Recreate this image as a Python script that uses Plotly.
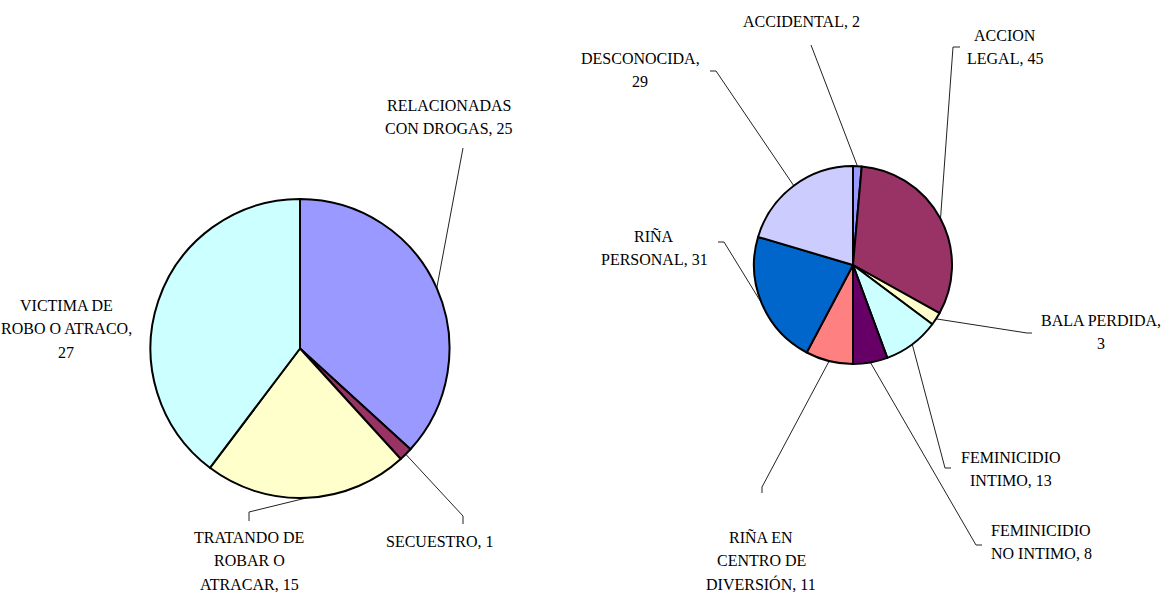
#two pies with leader-line labels (clasificacion de homicidios)
#%%
import numpy as np
import plotly.graph_objects as go

#%% data
left_names = ["RELACIONADAS CON DROGAS", "SECUESTRO", "TRATANDO DE ROBAR O ATRACAR", "VICTIMA DE ROBO O ATRACO"]
left_values = [25, 1, 15, 27]
left_colors = ["#9999FF", "#993366", "#FFFFCC", "#CCFFFF"]

right_names = ["ACCIDENTAL", "ACCION LEGAL", "BALA PERDIDA", "FEMINICIDIO INTIMO",
               "FEMINICIDIO NO INTIMO", "RIÑA EN CENTRO DE DIVERSIÓN", "RIÑA PERSONAL", "DESCONOCIDA"]
right_values = [2, 45, 3, 13, 8, 11, 31, 29]
right_colors = ["#9999FF", "#993366", "#FFFFCC", "#CCFFFF", "#660066", "#FF8080", "#0066CC", "#CCCCFF"]

# how each label is broken into lines (value filled in below)
left_label_fmt = ["RELACIONADAS\nCON DROGAS, {v}", "SECUESTRO, {v}",
                  "TRATANDO DE\nROBAR O\nATRACAR, {v}", "VICTIMA DE\nROBO O ATRACO,\n{v}"]
right_label_fmt = ["ACCIDENTAL, {v}", "ACCION\nLEGAL, {v}", "BALA PERDIDA,\n{v}", "FEMINICIDIO\nINTIMO, {v}",
                   "FEMINICIDIO\nNO INTIMO, {v}", "RIÑA EN\nCENTRO DE\nDIVERSIÓN, {v}", "RIÑA\nPERSONAL, {v}",
                   "DESCONOCIDA,\n{v}"]

#%% layout stuff (pixels)
W, H = 1171, 592
FONT = dict(family="Liberation Serif, Times New Roman, serif", size=16, color="black")
LINE_H = 23.5

left_geo = dict(cx=300, cy=348.5, r=149.5)
right_geo = dict(cx=853, cy=265, r=99)

# label position (center x, first line y) and leader elbows
left_pos = [(449, 105), (440, 541), (249, 537), (66, 305)]
left_elbow = [[(463, 148)], [(463, 516), (463, 524)], [(249, 512), (249, 521)], None]

right_pos = [(801, 21), (1005, 35), (1101, 320), (1011, 457),
             (1041, 530), (761, 537), (654, 236), (640, 58)]
right_elbow = [[(811, 45)], [(953, 47), (960, 47)], [(1027, 333), (1032, 333)], [(945, 468), (951, 468)],
               [(976, 545), (982, 545)], [(762, 487), (762, 493)], [(724, 242), (718, 242)],
               [(716, 71), (710, 71)]]


#%%
def domain(g):
    return dict(x=[(g["cx"] - g["r"]) / W, (g["cx"] + g["r"]) / W],
                y=[1 - (g["cy"] + g["r"]) / H, 1 - (g["cy"] - g["r"]) / H])


def edge_points(values, g):
    # midpoint of each slice on the rim, clockwise from 12 o'clock
    vals = np.array(values, dtype=float)
    mids = (np.cumsum(vals) - vals / 2) / vals.sum() * 2 * np.pi
    return [(g["cx"] + g["r"] * np.sin(a), g["cy"] - g["r"] * np.cos(a)) for a in mids]


fig = go.Figure()

for names, values, colors, g in [(left_names, left_values, left_colors, left_geo),
                                 (right_names, right_values, right_colors, right_geo)]:
    fig.add_trace(go.Pie(labels=names, values=values, domain=domain(g),
                         marker=dict(colors=colors, line=dict(color="black", width=2)),
                         sort=False, direction="clockwise", rotation=0,
                         textinfo="none", hoverinfo="label+value", showlegend=False))

#%% leader lines + labels
annotations = []
for values, fmts, pos, elbows, g in [(left_values, left_label_fmt, left_pos, left_elbow, left_geo),
                                     (right_values, right_label_fmt, right_pos, right_elbow, right_geo)]:
    pts = edge_points(values, g)
    for v, fmt, (lx, ly), el, p in zip(values, fmts, pos, elbows, pts):
        if el:
            xs = [p[0]] + [e[0] for e in el]
            ys = [p[1]] + [e[1] for e in el]
            fig.add_trace(go.Scatter(x=xs, y=ys, mode="lines", line=dict(color="#222222", width=1),
                                     hoverinfo="skip", showlegend=False))
        for i, line in enumerate(fmt.format(v=v).split("\n")):
            annotations.append(dict(x=lx, y=ly + i * LINE_H, xref="x", yref="y", text=line,
                                    showarrow=False, xanchor="center", yanchor="middle", font=FONT))

fig.update_layout(
    width=W, height=H,
    margin=dict(l=0, r=0, t=0, b=0),
    paper_bgcolor="white", plot_bgcolor="rgba(0,0,0,0)",
    xaxis=dict(range=[0, W], visible=False, fixedrange=True),
    yaxis=dict(range=[H, 0], visible=False, fixedrange=True),
    annotations=annotations,
)

# page body has a default 8px margin, drop it so the figure sits at 0,0
fig.write_html("out.html", config={"displayModeBar": False},
               post_script="document.body.style.margin='0px';document.body.style.overflow='hidden';")
